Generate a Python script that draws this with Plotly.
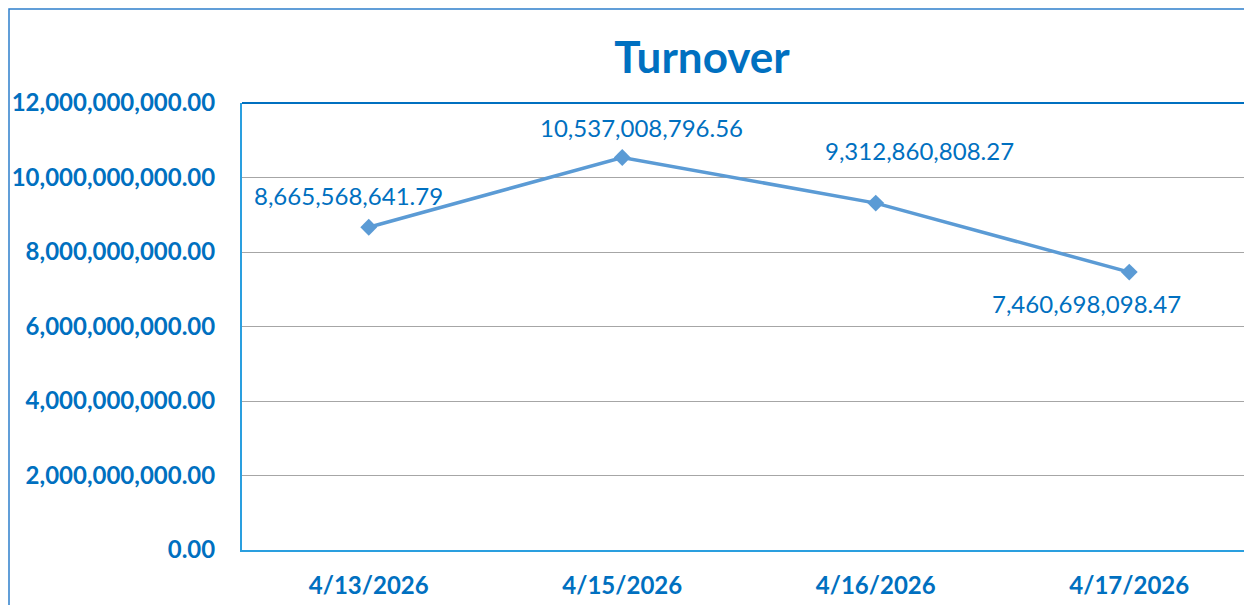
import plotly.graph_objects as go

categories = ["4/13/2026", "4/15/2026", "4/16/2026", "4/17/2026"]
turnover = [8665568641.79, 10537008796.56, 9312860808.27, 7460698098.47]
label_texts = ["8,665,568,641.79", "10,537,008,796.56", "9,312,860,808.27", "7,460,698,098.47"]
label_shift_x = [-20, 19, 44, -43]
label_shift_y = [32, 30, 53, -31]

BLUE = "#0070C0"
LINE = "#5B9BD5"
AXIS = "#2A9FDF"

# the page body adds an 8px offset; the figure is sized so it ends at the window edge
OFF = 8
W, H = 1252 - OFF, 605 - OFF
L, T = 242 - OFF, 103 - OFF
B = H - (550 - OFF)
PW, PH = W - L, H - T - B

def px_x(px):
    return (px - OFF - L) / PW

def px_y(py):
    return (550 - py) / PH

fig = go.Figure()
fig.add_trace(go.Scatter(
    x=categories, y=turnover, mode="lines+markers",
    line=dict(color=LINE, width=3.5),
    marker=dict(symbol="diamond", size=13, color=LINE),
    hoverinfo="skip", showlegend=False,
))

for c, v, t, dx, dy in zip(categories, turnover, label_texts, label_shift_x, label_shift_y):
    fig.add_annotation(x=c, y=v, text=t, showarrow=False, xshift=dx, yshift=dy,
                       font=dict(family="Lato", size=24, color=BLUE))

fig.update_layout(
    width=W, height=H,
    margin=dict(l=L, r=0, t=T, b=B),
    paper_bgcolor="white", plot_bgcolor="white",
    title=dict(text="<b>Turnover</b>", x=(702 - OFF) / W, xref="container", xanchor="center",
               y=1 - (58 - OFF) / H, yref="container", yanchor="middle",
               font=dict(family="Lato", size=44, color=BLUE)),
    xaxis=dict(type="category", range=[-0.5, 3.5 - 4 / 253.5], showgrid=False,
               showline=True, linecolor=AXIS, linewidth=2, ticks="",
               ticklabelstandoff=13,
               tickfont=dict(family="Lato", size=24, color=BLUE, weight="bold")),
    yaxis=dict(range=[0, 12e9], dtick=2e9, tickformat=",.2f", showgrid=True,
               gridcolor="#A6A6A6", gridwidth=1, zeroline=False,
               showline=True, linecolor=AXIS, linewidth=2, ticks="",
               ticklabelstandoff=20,
               tickfont=dict(family="Lato", size=24, color=BLUE, weight="bold")),
    shapes=[
        dict(type="line", xref="paper", yref="paper", x0=0, x1=1, y0=1, y1=1,
             line=dict(color=BLUE, width=2), layer="above"),
        dict(type="rect", xref="paper", yref="paper",
             x0=px_x(9), x1=1.05, y0=-0.3, y1=px_y(9),
             line=dict(color="#2E7FCB", width=1.5), fillcolor="rgba(0,0,0,0)", layer="above"),
    ],
)

fig.write_html("out.html")
